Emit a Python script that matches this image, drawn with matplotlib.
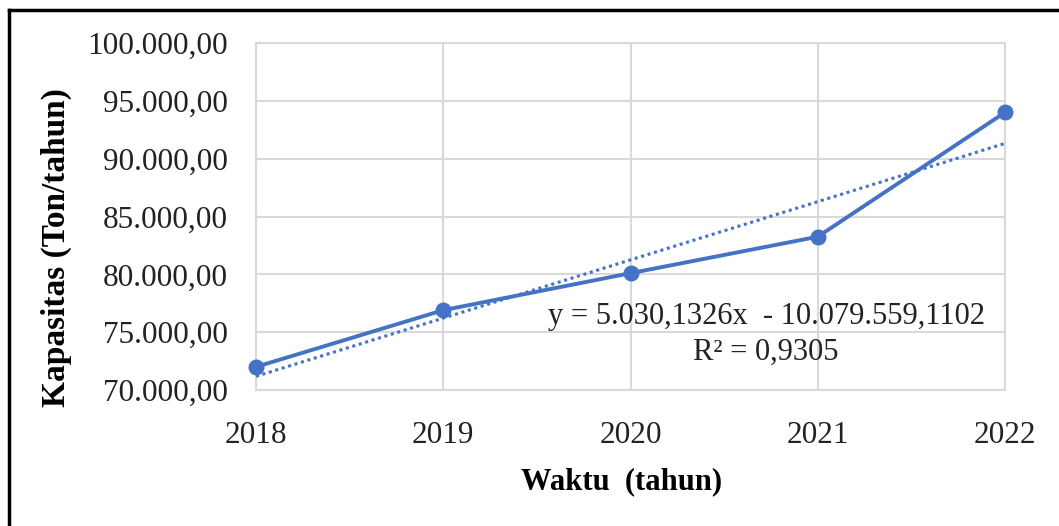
import numpy as np
import matplotlib
matplotlib.use("Agg")
import matplotlib.pyplot as plt
from matplotlib.lines import Line2D
from matplotlib.ticker import FuncFormatter

years = [2018, 2019, 2020, 2021, 2022]
kapasitas = [72000, 76900, 80100, 83250, 94000]
eq_text = "y = 5.030,1326x  - 10.079.559,1102"
r2_text = "R² = 0,9305"

plt.rcParams["font.family"] = ["Liberation Serif", "DejaVu Serif"]
blue = "#4472C4"


def id_format(v, pos):
    s = f"{v:,.2f}"
    return s.replace(",", "X").replace(".", ",").replace("X", ".")


fig = plt.figure(figsize=(10.59, 5.26), dpi=100)
ax = fig.add_axes([256 / 1059, 1 - 390 / 526, (1005 - 256) / 1059, (390 - 43) / 526])

# trendline (linear fit of the data)
coef = np.polyfit(years, kapasitas, 1)
xs = np.array([years[0], years[-1]])
ax.plot(xs, np.polyval(coef, xs), color=blue, lw=2.2, ls=(0, (1, 1.2)), zorder=3)

ax.plot(years, kapasitas, color=blue, lw=2.8, marker="o", ms=10.5, zorder=4, clip_on=False)

ax.set_xlim(2018, 2022)
ax.set_ylim(70000, 100000)
ax.set_xticks(years)
ax.set_yticks(np.arange(70000, 100001, 5000))
ax.yaxis.set_major_formatter(FuncFormatter(id_format))
ax.tick_params(length=0, labelsize=22.5, colors="#222222")
ax.tick_params(axis="y", pad=20)
ax.tick_params(axis="x", pad=22)
ax.grid(True, color="#D9D9D9", lw=1.5)
for sp in ax.spines.values():
    sp.set_color("#D9D9D9")
    sp.set_linewidth(1.5)
ax.set_axisbelow(True)

ax.text(0.681, 0.213, eq_text, transform=ax.transAxes, fontsize=22,
        ha="center", va="center", color="#222222")
ax.text(0.68, 0.11, r2_text, transform=ax.transAxes, fontsize=22,
        ha="center", va="center", color="#222222")

fig.text(56 / 1059, 1 - 248 / 526, "Kapasitas (Ton/tahun)", rotation=90,
         fontsize=24, fontweight="bold", ha="center", va="center")
fig.text(622 / 1059, 1 - 482 / 526, "Waktu  (tahun)", fontsize=22,
         fontweight="bold", ha="center", va="center")

# black frame around the chart (left and top edges visible)
fig.add_artist(Line2D([9 / 1059, 9 / 1059], [0, 1 - 10 / 526], color="black", lw=2.5,
                      transform=fig.transFigure))
fig.add_artist(Line2D([9 / 1059, 1], [1 - 10 / 526, 1 - 10 / 526], color="black", lw=2.5,
                      transform=fig.transFigure))

fig.savefig("out.png", dpi=100)
